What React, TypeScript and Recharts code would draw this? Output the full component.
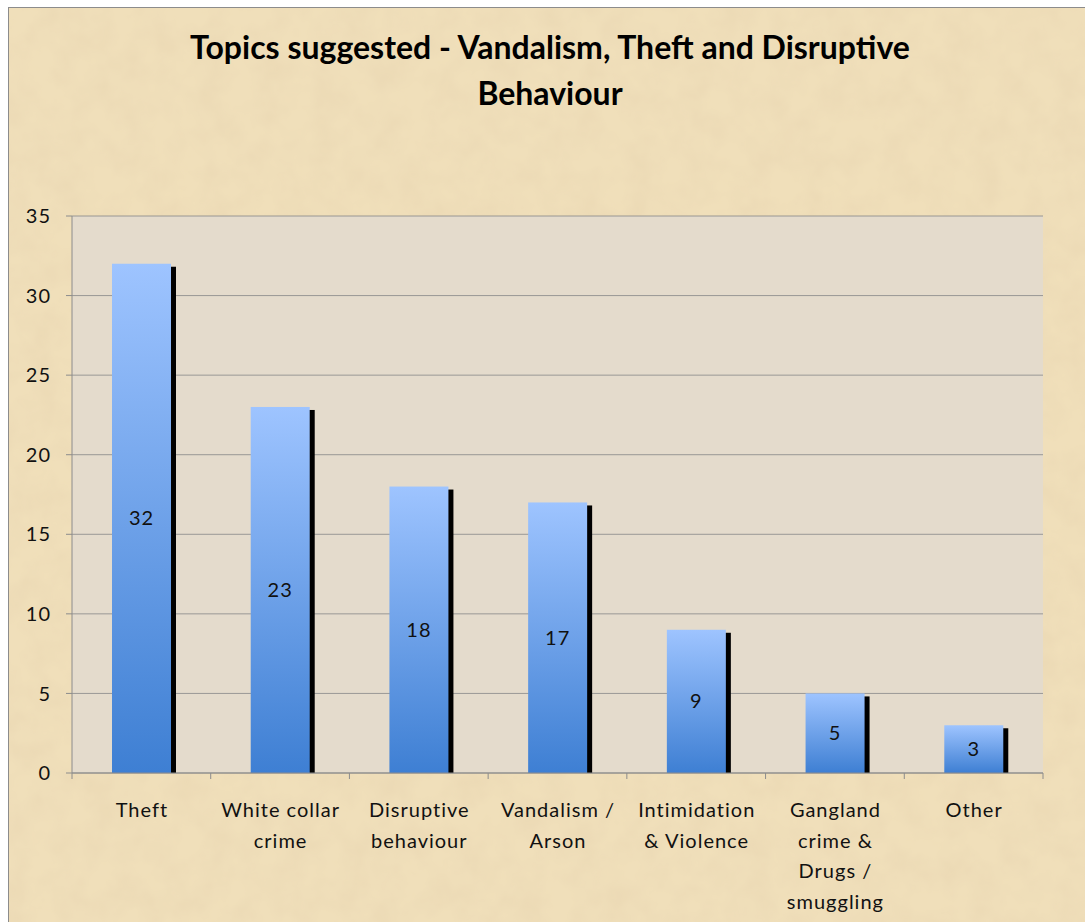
import { Bar, BarChart, CartesianGrid, LabelList, XAxis, YAxis } from 'recharts';

const categories = [
  'Theft',
  'White collar crime',
  'Disruptive behaviour',
  'Vandalism / Arson',
  'Intimidation & Violence',
  'Gangland crime & Drugs / smuggling',
  'Other',
];
const tickLines = [
  ['Theft'],
  ['White collar', 'crime'],
  ['Disruptive', 'behaviour'],
  ['Vandalism /', 'Arson'],
  ['Intimidation', '& Violence'],
  ['Gangland', 'crime &', 'Drugs /', 'smuggling'],
  ['Other'],
];
const counts = [32, 23, 18, 17, 9, 5, 3];
const yTicks = [0, 5, 10, 15, 20, 25, 30, 35];

const data = categories.map((name, i) => ({ name, count: counts[i], lines: tickLines[i] }));

const W = 1085;
const H = 922;
const LEFT = 72;
const RIGHT = 42;
const TOP = 216;
const BOTTOM = 149;
const band = (W - LEFT - RIGHT) / categories.length;
const font = 'Lato, "Open Sans", sans-serif';

function ShadowBar(props: any) {
  const { x, y, width, height } = props;
  if (!height) return null;
  return (
    <g>
      <rect x={x + 5} y={y + 3} width={width} height={height - 3} fill="#000" />
      <rect x={x} y={y} width={width} height={height} fill="url(#barFill)" />
    </g>
  );
}

function CatTick(props: any) {
  const { x, y, index } = props;
  const lines = tickLines[index] || [];
  const left = x - band / 2;
  return (
    <g>
      <line x1={left} y1={y - 8} x2={left} y2={y - 2} stroke="#8c8c8c" />
      {index === categories.length - 1 && (
        <line x1={x + band / 2} y1={y - 8} x2={x + band / 2} y2={y - 2} stroke="#8c8c8c" />
      )}
      {lines.map((t, k) => (
        <text
          key={k}
          x={x + 0.5}
          y={y + 28 + k * 30.5}
          textAnchor="middle"
          dominantBaseline="central"
          fontSize={20}
          letterSpacing={1}
          fontFamily={font}
          fill="#111"
        >
          {t}
        </text>
      ))}
    </g>
  );
}

export default function App() {
  return (
    <div style={{ position: 'absolute', left: 0, top: 0, width: W, height: H, background: '#fff' }}>
      <svg width={W} height={H} style={{ position: 'absolute', left: 0, top: 0 }}>
        <defs>
          <filter id="paper" x="0" y="0" width="100%" height="100%">
            <feTurbulence type="fractalNoise" baseFrequency="0.035" numOctaves="3" seed="4" />
            <feColorMatrix
              type="matrix"
              values="0 0 0 0 0.82  0 0 0 0 0.68  0 0 0 0 0.45  0 0 0 1.1 -0.35"
            />
            <feComposite in2="SourceGraphic" operator="in" />
          </filter>
        </defs>
        <rect x={8.5} y={7.5} width={W} height={H} fill="#f0dfba" stroke="#8c8c8c" />
        <rect x={9} y={8} width={W} height={H} fill="#f0dfba" filter="url(#paper)" />
      </svg>
      <div
        style={{
          position: 'absolute',
          left: 100,
          width: 900,
          top: 24,
          textAlign: 'center',
          fontFamily: font,
          fontWeight: 700,
          fontSize: 32,
          lineHeight: '46px',
          color: '#000',
        }}
      >
        Topics suggested - Vandalism, Theft and Disruptive
        <br />
        Behaviour
      </div>
      <div style={{ position: 'absolute', left: 0, top: 0 }}>
        <BarChart
          width={W}
          height={H}
          data={data}
          margin={{ top: TOP, right: RIGHT, bottom: 0, left: 0 }}
        >
          <defs>
            <linearGradient id="barFill" x1="0" y1="0" x2="0" y2="1">
              <stop offset="0%" stopColor="#9ec4ff" />
              <stop offset="100%" stopColor="#3e7fd3" />
            </linearGradient>
          </defs>
          <CartesianGrid
            vertical={false}
            stroke="#8c8c8c"
            strokeOpacity={0.85}
            fill="#e4dbcc"
            fillOpacity={1}
          />
          <XAxis
            dataKey="name"
            height={BOTTOM}
            interval={0}
            axisLine={{ stroke: '#8c8c8c' }}
            tickLine={false}
            tick={<CatTick />}
          />
          <YAxis
            width={LEFT}
            domain={[0, 35]}
            ticks={yTicks}
            interval={0}
            axisLine={{ stroke: '#8c8c8c' }}
            tickLine={{ stroke: '#8c8c8c' }}
            tickSize={6}
            tickMargin={15}
            tick={{ fontSize: 20, fill: '#111', fontFamily: font, letterSpacing: 1 }}
          />
          <Bar dataKey="count" barSize={59} shape={<ShadowBar />} isAnimationActive={false}>
            <LabelList
              dataKey="count"
              position="center"
              offset={0}
              fontSize={20}
              letterSpacing={1}
              fontFamily={font}
              fill="#111"
            />
          </Bar>
        </BarChart>
      </div>
    </div>
  );
}
